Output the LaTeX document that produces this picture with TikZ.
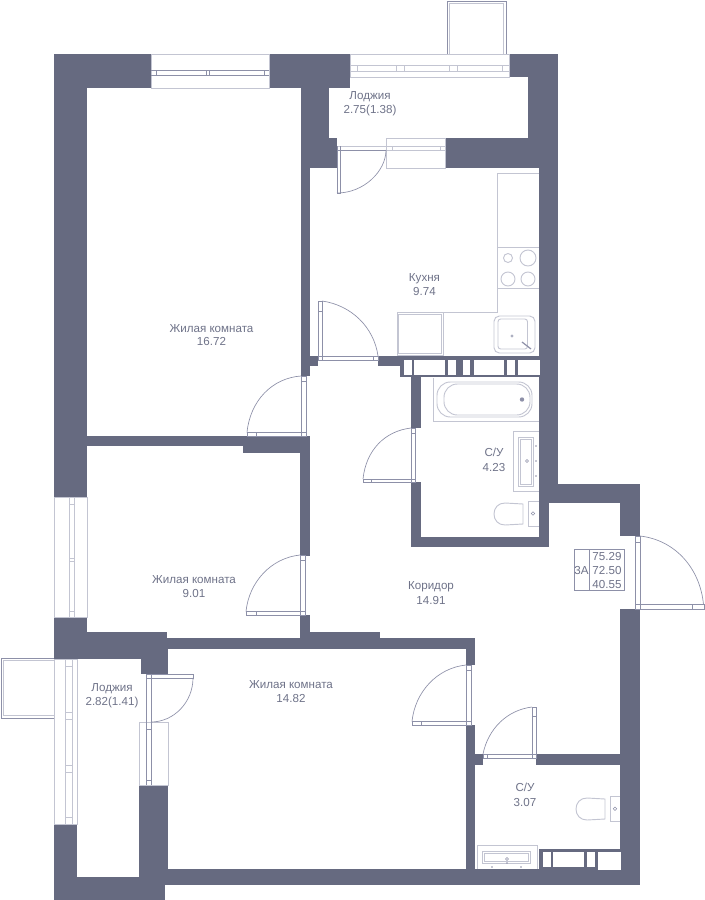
\documentclass[tikz,border=0pt]{standalone}
\usepackage{fontspec}
\setmainfont{Liberation Sans}
\definecolor{wallc}{HTML}{666A80}
\definecolor{linec}{HTML}{8D90A8}
\definecolor{lightc}{HTML}{C3C5D2}
\definecolor{textc}{HTML}{6E7288}
\tikzset{
  wall/.style={fill=wallc,draw=none},
  hole/.style={fill=white,draw=none},
  thin line/.style={draw=linec,line width=0.5pt},
  fixture/.style={draw=lightc,line width=0.7pt},
  winbox/.style={fill=white,draw=lightc,line width=0.6pt},
  label/.style={text=textc,font=\fontsize{8.7pt}{10pt}\selectfont,inner sep=0pt,align=center,anchor=base}
}
\begin{document}
\begin{tikzpicture}[x=0.75pt,y=-0.75pt]
\useasboundingbox (0,0) rectangle (704,900);
% balconies
\draw[thin line] (447,54) -- (447,1) -- (506,1) -- (506,54);
\draw[fixture] (449.5,54) -- (449.5,3.5) -- (503.5,3.5) -- (503.5,54);
\draw[thin line] (54,658) -- (1,658) -- (1,718) -- (54,718);
\draw[fixture] (54,660.5) -- (3.5,660.5) -- (3.5,715.5) -- (54,715.5);
% walls
\fill[wall] (54,54) rectangle (151,88);
\fill[wall] (54,54) rectangle (87,497);
\fill[wall] (269,54) rectangle (350,88);
\fill[wall] (301,54) rectangle (329,138);
\fill[wall] (301,88) rectangle (310,356);
\fill[wall] (301,138) rectangle (337,168);
\fill[wall] (509,54) rectangle (558,77);
\fill[wall] (528,54) rectangle (558,168);
\fill[wall] (445,138) rectangle (558,168);
\fill[wall] (539,168) rectangle (558,484);
\fill[wall] (301,356) rectangle (318,366);
\fill[wall] (301,366) rectangle (310,376);
\fill[wall] (87,436) rectangle (310,446);
\fill[wall] (243,446) rectangle (310,453);
\fill[wall] (300,453) rectangle (310,556);
\fill[wall] (378,356) rectangle (404,366);
\fill[wall] (400,356) rectangle (541,377);
\fill[wall] (411,377) rectangle (421,428);
\fill[wall] (411,482) rectangle (421,547);
\fill[wall] (411,537) rectangle (549,547);
\fill[wall] (539,484) rectangle (549,547);
\fill[wall] (539,484) rectangle (640,503);
\fill[wall] (620,484) rectangle (640,536);
\fill[wall] (620,609) rectangle (640,885);
\fill[wall] (300,615) rectangle (310,640);
\fill[wall] (54,617) rectangle (87,659);
\fill[wall] (54,632) rectangle (167,659);
\fill[wall] (141,649) rectangle (168,674);
\fill[wall] (160,638) rectangle (475,649);
\fill[wall] (310,632) rectangle (380,640);
\fill[wall] (466,638) rectangle (475,665);
\fill[wall] (466,725) rectangle (475,885);
\fill[wall] (466,754) rectangle (483,765);
\fill[wall] (536,754) rectangle (640,765);
\fill[wall] (139,785) rectangle (168,885);
\fill[wall] (54,824) rectangle (77,900);
\fill[wall] (54,877) rectangle (165,900);
\fill[wall] (139,869) rectangle (640,885);
\fill[wall] (539,849) rectangle (620,869);
% shaft holes
\foreach \a/\b in {404/412,414/445,448/456,463/470,474/504,507/515,518/540}
  \fill[hole] (\a,359.5) rectangle (\b,374.5);
\foreach \a/\b in {543/551,553/584,587/595}
  \fill[hole] (\a,852) rectangle (\b,867);
\fill[hole] (598,852) rectangle (621,870);
% windows
\draw[winbox] (151,54) rectangle (269,88);
\draw[thin line] (151,70.5) -- (269,70.5) (151,75) -- (269,75);
\foreach \x in {156,206.5,209.5,264} \draw[thin line] (\x,70.5) -- (\x,75);
\draw[winbox] (350,54) rectangle (509,77);
\draw[fixture] (350,65) -- (509,65) (350,71) -- (509,71);
\foreach \x in {357,396.5,404,449.5,457,502} \draw[fixture] (\x,65) -- (\x,71);
\draw[winbox] (386,138) rectangle (445,168);
\draw[fixture] (337,146) -- (445,146) (337,150) -- (445,150);
\foreach \x in {392,440} \draw[fixture] (\x,146) -- (\x,150);
\draw[winbox] (54,497) rectangle (87,617);
\draw[fixture] (69.5,497) -- (69.5,617) (74.5,497) -- (74.5,617);
\foreach \y in {504,558,561,611} \draw[fixture] (69.5,\y) -- (74.5,\y);
\draw[winbox] (54,659) rectangle (77,824);
\draw[fixture] (65,659) -- (65,824) (72,659) -- (72,824);
\foreach \y in {666,712,719.5,765,772,817} \draw[fixture] (65,\y) -- (72,\y);
\draw[winbox] (139,722) rectangle (168,785);
\draw[thin line] (146,674) -- (146,785) (151,674) -- (151,785);
\foreach \y in {729,780} \draw[thin line] (146,\y) -- (151,\y);
% doors
\draw[thin line] (337,146) -- (337,193) -- (340.5,193) -- (340.5,146) (337,150) -- (386,150);
\draw[thin line] (337,193) .. controls (364,193) and (386,171) .. (386,150);
\draw[thin line] (146,674) rectangle (193,678);
\draw[thin line] (193,678) .. controls (193,702) and (174,722) .. (151,722);
\draw[thin line] (301,376) rectangle (306,436) (247,432.5) rectangle (306,436);
\draw[thin line] (256,432.5) -- (256,436) (301,381) -- (306,381);
\draw[thin line] (247,432.5) .. controls (250,401) and (272,378) .. (301,376);
\draw[thin line] (318,301) rectangle (322,360) (318,356) rectangle (378,360);
\draw[thin line] (373,356) -- (373,360) (318,311) -- (322,311);
\draw[thin line] (378,356) .. controls (374,327) and (351,305) .. (322,301);
\draw[thin line] (411,428) rectangle (415,482.5) (363,479) rectangle (415,482.5);
\draw[thin line] (371,479) -- (371,482.5) (411,433) -- (415,433);
\draw[thin line] (363,479) .. controls (366,450) and (385,431) .. (411,428);
\draw[thin line] (300,555) rectangle (305,615) (246,611.5) rectangle (305,615);
\draw[thin line] (256,611.5) -- (256,615) (300,560) -- (305,560);
\draw[thin line] (246,611.5) .. controls (249,582) and (271,558) .. (300,555);
\draw[thin line] (635,536) rectangle (640,609) (635,604.5) rectangle (704,609);
\draw[thin line] (692,604.5) -- (692,609) (635,542) -- (640,542);
\draw[thin line] (640,536) .. controls (675,540) and (700,568) .. (703.5,604.5);
\draw[thin line] (466,665) rectangle (471,725.5) (412,721.5) rectangle (471,725.5);
\draw[thin line] (421,721.5) -- (421,725.5) (466,670) -- (471,670);
\draw[thin line] (412,721.5) .. controls (415,692) and (437,668) .. (466,665);
\draw[thin line] (532,707) rectangle (536.5,758) (483,754) rectangle (536.5,758);
\draw[thin line] (487,754) -- (487,758) (532,716) -- (536.5,716);
\draw[thin line] (483,754) .. controls (488,729) and (507,710) .. (532,707);
% kitchen
\draw[fixture] (539,173) -- (497,173) -- (497,312) -- (397,312) -- (397,355.5) -- (443,355.5) -- (443,312);
\draw[fixture] (398.8,314) rectangle (441.5,353.5);
\draw[fixture] (497,247) -- (539,247) (497,288) -- (539,288);
\draw[fixture] (508,258) circle (4.5) (528,258) circle (8) (508,279) circle (7) (528,279) circle (7);
\draw[fixture,rounded corners=4pt] (494,316) rectangle (535,353);
\draw[fixture,rounded corners=2pt] (498,319) rectangle (527.5,349);
\fill[lightc!60!linec] (512,336) circle (1.7);
\draw[linec,line width=0.9pt] (522,342) -- (531,349);
% bath 1
\draw[fixture] (539,421.5) -- (433,421.5) -- (433,378);
\draw[fixture,rounded corners=10pt] (437,382) rectangle (532,417);
\draw[fixture,rounded corners=10pt] (444,384) rectangle (530,415);
\fill[linec] (522,399.5) circle (2.2);
\draw[fixture] (539,431) -- (513,431) -- (513,491) -- (539,491);
\draw[fixture] (518.5,437) rectangle (533,486) (520.5,439) rectangle (531,484);
\draw[linec,line width=0.4pt] (527,461) circle (1.5);
\fill[linec] (536,446) circle (0.9) (536,476) circle (0.9) (536,461) circle (0.9);
\draw[fixture] (539,501) -- (528,501) -- (528,526) -- (539,526);
\draw[fixture] (523,504) -- (505,503) .. controls (498,503) and (494,508) .. (494,514) .. controls (494,520) and (498,525) .. (505,525) -- (523,524) -- cycle;
\draw[linec,line width=0.4pt] (533,513.5) circle (1.8);
% bath 2
\draw[fixture] (620,796) -- (610,796) -- (610,821) -- (620,821);
\draw[fixture] (605,799) -- (587,798) .. controls (580,798) and (576,803) .. (576,809) .. controls (576,815) and (580,820) .. (587,820) -- (605,819) -- cycle;
\draw[linec,line width=0.4pt] (615,808.7) circle (1.8);
\draw[fixture] (477,869) -- (477,845) -- (537,845) -- (537,869);
\draw[fixture] (482,851) rectangle (530,863) (484,853) rectangle (528,861);
\draw[linec,line width=0.4pt] (507,859) circle (1.5);
\fill[linec] (492,867) circle (0.9) (521,867) circle (0.9) (507,863) circle (0.9);
% info table
\draw[thin line] (574,549.5) rectangle (624,590) (589,549.5) -- (589,590);
\node[label] (tA) at (581.5,574) {3A};
\node[label] (t1) at (607,560) {75.29};
\node[label] (t2) at (607,574) {72.50};
\node[label] (t3) at (607,588) {40.55};
% labels
\node[label] (r1a) at (211.5,332) {Жилая комната};
\node[label] (r1b) at (211.5,345) {16.72};
\node[label] (r2a) at (194,583) {Жилая комната};
\node[label] (r2b) at (194,597) {9.01};
\node[label] (r3a) at (291,688) {Жилая комната};
\node[label] (r3b) at (291,702) {14.82};
\node[label] (k1) at (424.5,281) {Кухня};
\node[label] (k2) at (424.5,295) {9.74};
\node[label] (l1a) at (370,99) {Лоджия};
\node[label] (l1b) at (370,113) {2.75(1.38)};
\node[label] (l2a) at (112,691) {Лоджия};
\node[label] (l2b) at (112,705) {2.82(1.41)};
\node[label] (b1a) at (494,456) {С/У};
\node[label] (b1b) at (494,471) {4.23};
\node[label] (b2a) at (525,791) {С/У};
\node[label] (b2b) at (525,806) {3.07};
\node[label] (c1) at (431,589) {Коридор};
\node[label] (c2) at (431,604) {14.91};
\end{tikzpicture}
\end{document}
